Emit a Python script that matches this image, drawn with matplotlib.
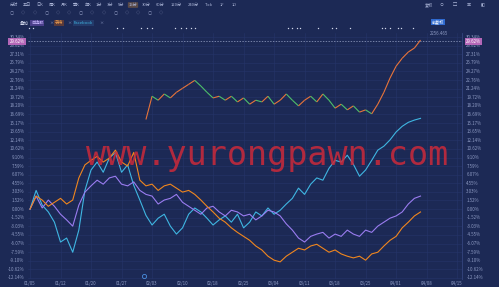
import matplotlib
matplotlib.use("Agg")
import matplotlib.pyplot as plt
import numpy as np
from matplotlib.collections import LineCollection

plt.rcParams['font.family'] = ['Noto Sans CJK SC', 'DejaVu Sans']

# x轴日期（每5个交易日一个刻度）
date_labels = ["01/05", "01/12", "01/20", "01/27", "02/03", "02/10", "02/18", "02/25",
               "03/04", "03/11", "03/18", "03/25", "04/01", "04/08", "04/15"]

# y轴刻度文字
y_labels = ["30.34%", "28.82%", "27.31%", "25.79%", "24.27%", "22.76%", "21.24%", "19.72%",
            "18.20%", "16.69%", "15.17%", "13.65%", "12.14%", "10.62%", "9.10%", "7.59%",
            "6.07%", "4.55%", "3.03%", "1.52%", "0.00%", "-1.52%", "-3.03%", "-4.55%",
            "-6.07%", "-7.59%", "-9.10%", "-10.62%", "-12.14%"]
y_values = [30.34, 28.82, 27.31, 25.79, 24.27, 22.76, 21.24, 19.72, 18.20, 16.69, 15.17,
            13.65, 12.14, 10.62, 9.10, 7.59, 6.07, 4.55, 3.03, 1.52, 0.00, -1.52, -3.03,
            -4.55, -6.07, -7.59, -9.10, -10.62, -12.14]

# 叠加股票涨跌幅 (%)，按交易日
cyan = [0.0, 3.3, 0.7, -0.5, -2.3, -5.8, -5.1, -7.6, -3.7, 3.3, 6.9, 8.3, 6.5, 9.0, 10.0,
        6.5, 7.8, 4.2, 1.6, -1.1, -2.8, -1.6, -0.9, -3.0, -4.4, -3.3, -0.9, 0.2, -0.5, -1.6,
        -2.8, -1.9, -1.2, -2.3, -0.9, -3.3, -2.3, -0.5, -1.2, 0.2, -0.9, -0.2, 0.9, 1.9, 3.7,
        2.6, 4.4, 5.5, 5.1, 7.2, 8.6, 8.3, 9.5, 7.9, 5.8, 6.9, 8.6, 10.4, 11.1, 12.2, 13.6,
        14.6, 15.3, 15.7, 16.0]
purple = [0.0, 2.3, 0.2, 1.6, 0.5, -0.9, -1.9, -3.0, 0.7, 3.0, 4.1, 5.1, 4.4, 5.5, 5.8,
          4.4, 4.1, 4.8, 3.3, 2.6, 2.3, 0.9, 1.6, 1.9, 2.6, 1.2, 0.5, -0.2, -0.9, 0.2, 0.5,
          -0.5, -1.2, -0.2, -0.5, -1.2, -0.9, -1.9, -1.2, -0.2, -0.5, -1.2, -2.6, -3.7, -5.1,
          -5.8, -4.8, -4.4, -4.1, -5.1, -4.4, -4.8, -3.7, -4.4, -4.8, -3.7, -4.1, -3.0, -2.3,
          -1.6, -1.2, -0.5, 0.9, 1.9, 2.3]
orange = [0.0, 2.3, 1.6, 0.5, 1.2, 1.9, 0.9, 1.6, 5.5, 7.8, 8.6, 9.3, 8.3, 9.0, 10.4, 8.3,
          7.6, 10.0, 5.1, 4.1, 4.4, 3.3, 4.1, 4.4, 3.7, 3.0, 3.3, 2.6, 1.6, 0.5, -0.5, -1.6,
          -2.3, -3.3, -4.1, -4.8, -5.5, -6.5, -7.2, -8.3, -9.0, -9.3, -8.3, -7.6, -6.9, -7.2,
          -6.5, -6.2, -6.9, -7.6, -7.2, -7.9, -8.3, -8.6, -8.3, -9.0, -7.9, -7.6, -6.5, -5.5,
          -4.8, -3.3, -2.3, -1.2, -0.5]
# 主股票（从第19个交易日开始）
main_start = 19
main = [15.8, 19.9, 19.2, 20.3, 19.6, 20.6, 21.3, 22.0, 22.7, 21.7, 20.6, 19.6, 19.9, 19.2,
        19.9, 18.9, 19.6, 18.5, 19.2, 18.9, 19.9, 18.5, 19.2, 20.3, 19.2, 18.2, 19.2, 19.9,
        18.9, 20.3, 19.2, 17.8, 18.5, 17.5, 18.2, 17.1, 17.5, 16.8, 18.5, 20.6, 23.1, 25.2,
        26.6, 27.7, 28.4, 29.8]
last_line = 29.62
last_price = "2256.465"

toolbar = ["分时", "五日", "日K", "周K", "月K", "季K", "年K", "1分", "3分", "5分", "15分",
           "30分", "60分", "120分", "240分", "Tick", "1F", "1D"]
toolbar_x = [14, 27, 40, 52, 64, 76, 88, 99, 110, 121, 133, 146, 160, 176, 193, 209, 222, 234]

BG = "#1c2955"
GRID = "#25356a"
TXT = "#8e9bc4"

fig = plt.figure(figsize=(4.99, 2.87), dpi=100, facecolor=BG)
ax = fig.add_axes([28 / 499, 1 - 279 / 287, 434 / 499, 246 / 287], facecolor=BG)

ax.set_xlim(-0.33, 70.8)
ax.set_ylim(-12.32, 31.05)
for s in ax.spines.values():
    s.set_visible(False)
ax.spines['right'].set_visible(True)
ax.spines['right'].set_color("#34457e")
ax.spines['right'].set_linewidth(0.6)
ax.set_xticks([])
ax.set_yticks([])

for v in y_values:
    ax.axhline(v, color=GRID, lw=0.4, zorder=0)
for i in range(len(date_labels)):
    ax.axvline(i * 5, color=GRID, lw=0.4, zorder=0)

# 水印
fig.text(267 / 499, 1 - 155 / 287, "www.yurongpawn.com", color="#cc2a3a", alpha=0.85,
         fontsize=24, family="DejaVu Sans Mono", ha="center", va="center", zorder=1)

days = np.arange(len(cyan))
ax.plot(days, cyan, color="#3fb6e2", lw=0.8, zorder=3)
ax.plot(days, purple, color="#9a7cf0", lw=0.8, zorder=3)
ax.plot(days, orange, color="#f0861e", lw=0.8, zorder=4)

mx = np.arange(main_start, main_start + len(main))
pts = np.column_stack([mx, main])
segs = np.stack([pts[:-1], pts[1:]], axis=1)
cols = ["#e8743a" if b >= a else "#4dbf6a" for a, b in zip(main[:-1], main[1:])]
ax.add_collection(LineCollection(segs, colors=cols, linewidths=0.8, zorder=5))

ax.axhline(last_line, color="#9aa5c8", lw=0.5, ls=(0, (2, 2)), zorder=2)
ax.text(mx[-1] + 1.5, last_line + 1.3, last_price, color=TXT, fontsize=3.2,
        ha="left", va="center")
ax.plot(main_start - 0.3, -11.8, marker="o", ms=3, mfc="none", mec="#4a8fe0", mew=0.6,
        clip_on=False, zorder=6)

# 左右两侧刻度
for v, lab in zip(y_values, y_labels):
    ax.text(-0.008, v, lab, transform=ax.get_yaxis_transform(), color=TXT, fontsize=3.2,
            ha="right", va="center")
    ax.text(1.01, v, lab, transform=ax.get_yaxis_transform(), color=TXT, fontsize=3.2,
            ha="left", va="center")
box = dict(boxstyle="square,pad=0.25", fc="#b467b8", ec="none")
ax.text(-0.008, last_line, "%.2f%%" % last_line, transform=ax.get_yaxis_transform(),
        color="white", fontsize=3.2, ha="right", va="center", bbox=box)
ax.text(1.01, last_line, "%.2f%%" % last_line, transform=ax.get_yaxis_transform(),
        color="white", fontsize=3.2, ha="left", va="center", bbox=box)

for i, lab in enumerate(date_labels):
    fig.text((30 + i * 30.5) / 499, 1 - 283 / 287, lab, color=TXT, fontsize=3.2,
             ha="center", va="center")

# 顶部工具栏
for t, tx in zip(toolbar, toolbar_x):
    kw = {}
    if t == "15分":
        kw["bbox"] = dict(boxstyle="round,pad=0.2", fc="#5a4a48", ec="none")
    fig.text(tx / 499, 1 - 5 / 287, t, color="#aab4d6", fontsize=3.0, ha="center",
             va="center", **kw)
for j in range(14):
    fig.text((12 + j * 11.5) / 499, 1 - 14 / 287, "◇" if j % 3 else "○", color="#7d88b0",
             fontsize=3, ha="center", va="center")

fig.text(20 / 499, 1 - 23 / 287, "叠加", color="#d0d6ea", fontsize=3.2, va="center")
fig.text(31 / 499, 1 - 23 / 287, "自选股", color="#c9b8ff", fontsize=3.0, va="center",
         bbox=dict(boxstyle="square,pad=0.2", fc="#4a3f8a", ec="none"))
fig.text(49 / 499, 1 - 23 / 287, "×", color="#8e9bc4", fontsize=3.0, va="center")
fig.text(55 / 499, 1 - 23 / 287, "手持", color="#f0a050", fontsize=3.0, va="center",
         bbox=dict(boxstyle="square,pad=0.2", fc="#5a3a3a", ec="none"))
fig.text(67 / 499, 1 - 23 / 287, "×", color="#8e9bc4", fontsize=3.0, va="center")
fig.text(74 / 499, 1 - 23 / 287, "Facebook", color="#3fb6e2", fontsize=3.0, va="center",
         bbox=dict(boxstyle="square,pad=0.2", fc="#233a6a", ec="none"))
fig.text(99 / 499, 1 - 23 / 287, "×", color="#8e9bc4", fontsize=3.0, va="center")

dots = [29, 33, 117, 123, 141, 147, 152, 175, 181, 186, 191, 195, 288, 292, 297, 300, 318,
        332, 336, 350, 382, 385, 390, 398, 401, 413]
for d in dots:
    ax.plot(d / 499, 1 - 28 / 287, marker="o", ms=1.0, color="#d0d6ea", mew=0,
            transform=fig.transFigure, clip_on=False)

fig.text(432 / 499, 1 - 22 / 287, "前复权", color="white", fontsize=3.0, ha="left",
         va="center", bbox=dict(boxstyle="square,pad=0.25", fc="#2f6ad0", ec="none"))
for k, t in enumerate(["复权", "⊙", "▢", "▣", "◧"]):
    fig.text((425 + k * 14) / 499, 1 - 5 / 287, t, color="#aab4d6", fontsize=3.0,
             ha="left", va="center")

fig.savefig("out.png", dpi=100, facecolor=BG)
